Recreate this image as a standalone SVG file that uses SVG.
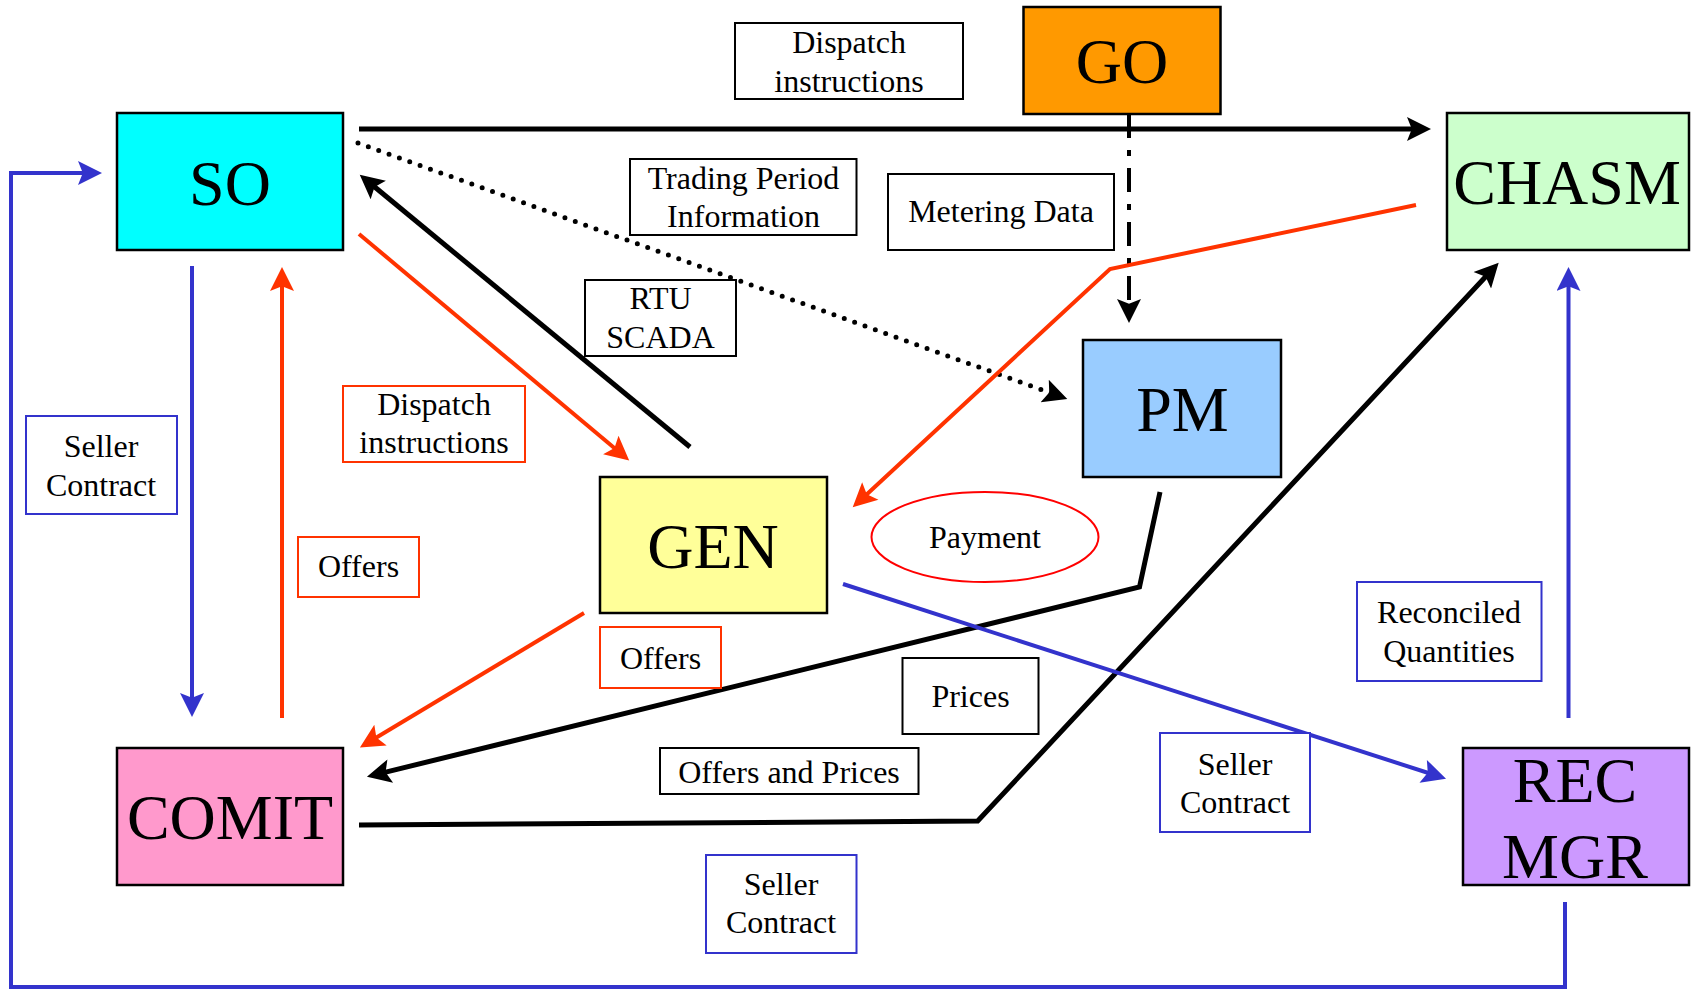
<svg xmlns="http://www.w3.org/2000/svg" width="1695" height="990" viewBox="0 0 1695 990">
<style>
.node{stroke:#000;stroke-width:2.5}
.big{font-family:"Liberation Serif","Times New Roman",serif;font-size:64px;text-anchor:middle;fill:#000}
.lbl{font-family:"Liberation Serif","Times New Roman",serif;font-size:32px;text-anchor:middle;fill:#000}
.bk{fill:#fff;stroke:#000;stroke-width:2}
.rd{fill:#fff;stroke:#FF3300;stroke-width:2}
.bl{fill:#fff;stroke:#3333CC;stroke-width:2}
.c{fill:none}
.cb{stroke:#000;stroke-width:5}
.cr{stroke:#FF3300;stroke-width:4}
.cu{stroke:#3333CC;stroke-width:4}
</style>
<defs>
<marker id="ab" viewBox="0 0 10 10" refX="5" refY="5" markerWidth="27" markerHeight="24" markerUnits="userSpaceOnUse" orient="auto"><path d="M0,0 L10,5 L0,10 L2,5 z" fill="#000"/></marker>
<marker id="ar" viewBox="0 0 10 10" refX="5" refY="5" markerWidth="27" markerHeight="24" markerUnits="userSpaceOnUse" orient="auto"><path d="M0,0 L10,5 L0,10 L2,5 z" fill="#FF3300"/></marker>
<marker id="au" viewBox="0 0 10 10" refX="5" refY="5" markerWidth="27" markerHeight="24" markerUnits="userSpaceOnUse" orient="auto"><path d="M0,0 L10,5 L0,10 L2,5 z" fill="#3333CC"/></marker>
</defs>
<rect width="1695" height="990" fill="#fff"/>

<g id="connectors" class="c">
<path class="cb" d="M359,129 L1419,129" marker-end="url(#ab)"/>
<path d="M358,143 L1056,395" stroke="#000" stroke-width="5" stroke-linecap="round" stroke-dasharray="0 11" marker-end="url(#ab)"/>
<path class="cb" stroke-width="4.5" d="M690,447 L369,182.3" marker-end="url(#ab)"/>
<path class="cr" d="M359,234 L620,452.7" marker-end="url(#ar)"/>
<path class="cu" d="M192,266 L192,705" marker-end="url(#au)"/>
<path class="cr" d="M282,718 L282,279" marker-end="url(#ar)"/>
<path class="cu" stroke-width="3.5" d="M1565,902 L1565,987 L11,987 L11,173 L90,173" marker-end="url(#au)"/>
<path d="M1129,114 L1129,311" stroke="#000" stroke-width="4" stroke-dasharray="24 12 6 12" marker-end="url(#ab)"/>
<path class="cr" d="M1416,205 L1110,269 L861.5,499.2" marker-end="url(#ar)"/>
<path class="cb" d="M1160,492 L1139.5,587 L378.6,773.9" marker-end="url(#ab)"/>
<path class="cr" d="M584,613 L370.2,741.3" marker-end="url(#ar)"/>
<path class="cb" d="M359,825 L977.7,821 L1490.5,271.5" marker-end="url(#ab)"/>
<path class="cu" d="M843,584 L1434.6,775" marker-end="url(#au)"/>
<path class="cu" d="M1568.5,718 L1568.5,279" marker-end="url(#au)"/>
</g>

<g id="so"><rect class="node" x="117" y="113" width="226" height="137" fill="#00FFFF"/><text class="big" x="230" y="205">SO</text></g>
<g id="go"><rect class="node" x="1023.5" y="7" width="197" height="107" fill="#FF9900"/><text class="big" x="1122" y="83">GO</text></g>
<g id="chasm"><rect class="node" x="1447" y="113" width="242" height="137" fill="#CCFFCC"/><text class="big" x="1567" y="204">CHASM</text></g>
<g id="pm"><rect class="node" x="1083" y="340" width="198" height="137" fill="#99CCFF"/><text class="big" x="1182.5" y="431">PM</text></g>
<g id="gen"><rect class="node" x="600" y="477" width="227" height="136" fill="#FFFF99"/><text class="big" x="713" y="568">GEN</text></g>
<g id="comit"><rect class="node" x="117" y="748" width="226" height="137" fill="#FF99CC"/><text class="big" x="230" y="839">COMIT</text></g>
<g id="recmgr"><rect class="node" x="1463" y="748" width="226" height="137" fill="#CC99FF"/><text class="big" x="1575" y="802">REC</text><text class="big" x="1575" y="878">MGR</text></g>

<g id="lbl-dispatch-top"><rect class="bk" x="735" y="23" width="228" height="76"/><text class="lbl" x="849" y="53">Dispatch</text><text class="lbl" x="849" y="91.5">instructions</text></g>
<g id="lbl-trading"><rect class="bk" x="630" y="159" width="226.5" height="76"/><text class="lbl" x="743.5" y="189">Trading Period</text><text class="lbl" x="743.5" y="227">Information</text></g>
<g id="lbl-metering"><rect class="bk" x="888" y="174" width="226" height="76"/><text class="lbl" x="1001" y="221.5">Metering Data</text></g>
<g id="lbl-rtu"><rect class="bk" x="585" y="280" width="151" height="76"/><text class="lbl" x="660.5" y="309">RTU</text><text class="lbl" x="660.5" y="348">SCADA</text></g>
<g id="lbl-dispatch-red"><rect class="rd" x="343" y="386" width="182" height="76"/><text class="lbl" x="434" y="415">Dispatch</text><text class="lbl" x="434" y="453">instructions</text></g>
<g id="lbl-seller-left"><rect class="bl" x="26" y="416" width="151" height="98"/><text class="lbl" x="101" y="457">Seller</text><text class="lbl" x="101" y="496">Contract</text></g>
<g id="lbl-offers-left"><rect class="rd" x="298" y="537" width="121" height="60"/><text class="lbl" x="358.5" y="577">Offers</text></g>
<g id="lbl-offers-gen"><rect class="rd" x="600" y="627" width="121" height="61"/><text class="lbl" x="660.5" y="669">Offers</text></g>
<g id="lbl-payment"><ellipse cx="985" cy="537" rx="113.5" ry="45" fill="#fff" stroke="#FF0000" stroke-width="2"/><text class="lbl" x="985" y="548">Payment</text></g>
<g id="lbl-prices"><rect class="bk" x="902.5" y="658" width="136" height="76"/><text class="lbl" x="970.5" y="707">Prices</text></g>
<g id="lbl-offers-prices"><rect class="bk" x="660" y="748" width="258.5" height="46"/><text class="lbl" x="789" y="783">Offers and Prices</text></g>
<g id="lbl-seller-mid"><rect class="bl" x="1160" y="733" width="150" height="99"/><text class="lbl" x="1235" y="775">Seller</text><text class="lbl" x="1235" y="813">Contract</text></g>
<g id="lbl-seller-bottom"><rect class="bl" x="706" y="855" width="150.5" height="98"/><text class="lbl" x="781" y="895">Seller</text><text class="lbl" x="781" y="933">Contract</text></g>
<g id="lbl-reconciled"><rect class="bl" x="1357" y="582" width="184.5" height="99"/><text class="lbl" x="1449" y="623">Reconciled</text><text class="lbl" x="1449" y="662">Quantities</text></g>
</svg>
